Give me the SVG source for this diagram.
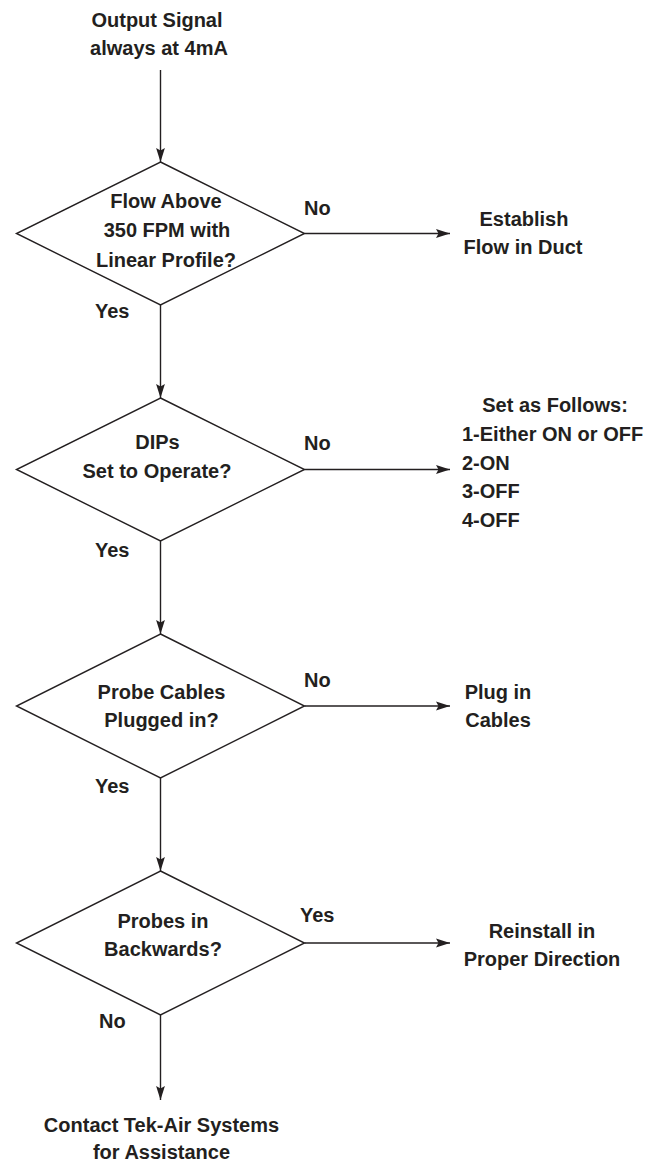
<svg xmlns="http://www.w3.org/2000/svg" width="667" height="1165" viewBox="0 0 667 1165">
  <defs>
    <marker id="arrow" markerUnits="userSpaceOnUse" markerWidth="16" markerHeight="12" refX="14" refY="5" orient="auto">
      <path d="M0,0.6 L14,5 L0,9.4 L2.5,5 Z" fill="#231f20"/>
    </marker>
    <style>
      text { font-family: "Liberation Sans", Arial, sans-serif; font-weight: bold; font-size: 20px; fill: #231f20; }
      .c { text-anchor: middle; }
      .shape { fill: #ffffff; stroke: #231f20; stroke-width: 1.4; }
      .link { fill: none; stroke: #231f20; stroke-width: 1.4; marker-end: url(#arrow); }
    </style>
  </defs>
  <rect width="667" height="1165" fill="#ffffff"/>

  <!-- connectors -->
  <g id="connectors">
    <line class="link" x1="160.5" y1="70" x2="160.5" y2="162"/>
    <line class="link" x1="160.5" y1="305" x2="160.5" y2="398"/>
    <line class="link" x1="160.5" y1="541" x2="160.5" y2="634"/>
    <line class="link" x1="160.5" y1="778" x2="160.5" y2="871"/>
    <line class="link" x1="160.5" y1="1015" x2="160.5" y2="1100"/>
    <line class="link" x1="304.5" y1="233.5" x2="450" y2="233.5"/>
    <line class="link" x1="304.5" y1="469.5" x2="450" y2="469.5"/>
    <line class="link" x1="304.5" y1="706" x2="450" y2="706"/>
    <line class="link" x1="304.5" y1="943" x2="450" y2="943"/>
  </g>

  <!-- branch labels -->
  <g id="labels">
    <text x="304" y="215">No</text>
    <text x="95" y="318">Yes</text>
    <text x="304" y="450">No</text>
    <text x="95" y="556.5">Yes</text>
    <text x="304" y="686.5">No</text>
    <text x="95" y="793">Yes</text>
    <text x="300" y="922">Yes</text>
    <text x="99" y="1027.5">No</text>
  </g>

  <g id="start">
    <text class="c" x="157" y="27">Output Signal</text>
    <text class="c" x="159" y="55">always at 4mA</text>
  </g>

  <g id="check-flow">
    <polygon class="shape" points="160.5,162 304.5,233.5 160.5,305 16.5,233.5"/>
    <text class="c" x="166" y="208">Flow Above</text>
    <text class="c" x="167" y="237">350 FPM with</text>
    <text class="c" x="166" y="266.5">Linear Profile?</text>
  </g>

  <g id="establish-flow">
    <text class="c" x="524" y="226">Establish</text>
    <text class="c" x="523" y="254">Flow in Duct</text>
  </g>

  <g id="check-dips">
    <polygon class="shape" points="160.5,398 304.5,469.5 160.5,541 16.5,469.5"/>
    <text class="c" x="157.5" y="449">DIPs</text>
    <text class="c" x="157" y="478">Set to Operate?</text>
  </g>

  <g id="set-dips">
    <text class="c" x="555" y="411.5">Set as Follows:</text>
    <text x="462" y="441">1-Either ON or OFF</text>
    <text x="462" y="469.5">2-ON</text>
    <text x="462" y="497.5">3-OFF</text>
    <text x="462" y="526.5">4-OFF</text>
  </g>

  <g id="check-cables">
    <polygon class="shape" points="160.5,634 304.5,706 160.5,778 16.5,706"/>
    <text class="c" x="161.5" y="699">Probe Cables</text>
    <text class="c" x="161.5" y="726.5">Plugged in?</text>
  </g>

  <g id="plug-cables">
    <text class="c" x="498" y="698.5">Plug in</text>
    <text class="c" x="498" y="726.5">Cables</text>
  </g>

  <g id="check-probes">
    <polygon class="shape" points="160.5,871 304.5,943 160.5,1015 16.5,943"/>
    <text class="c" x="163" y="927.5">Probes in</text>
    <text class="c" x="163" y="956">Backwards?</text>
  </g>

  <g id="reinstall">
    <text class="c" x="542" y="937.5">Reinstall in</text>
    <text class="c" x="542" y="966">Proper Direction</text>
  </g>

  <g id="contact">
    <text class="c" x="161.5" y="1131.5">Contact Tek-Air Systems</text>
    <text class="c" x="161.5" y="1159">for Assistance</text>
  </g>
</svg>
